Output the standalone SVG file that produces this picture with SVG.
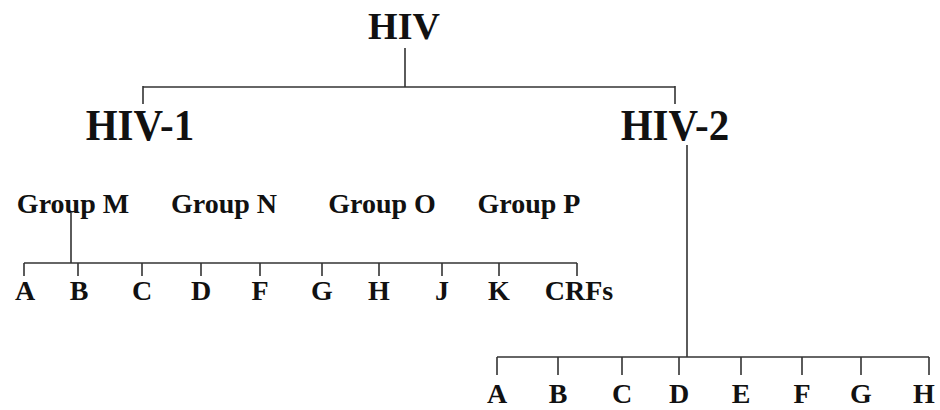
<svg xmlns="http://www.w3.org/2000/svg" width="940" height="410" viewBox="0 0 940 410">
<style>
text{font-family:"Liberation Serif","Times New Roman",serif;font-weight:bold;fill:#111;text-anchor:middle}
.l1{font-size:38px}
.l2{font-size:41px}
.g{font-size:28px}
.s{font-size:28px}
.c line{stroke:#333;stroke-width:1.6;fill:none}
</style>
<rect width="940" height="410" fill="#fff"/>
<g class="c" id="connectors">
<line x1="405" y1="48" x2="405" y2="87"/>
<line x1="143" y1="87" x2="675" y2="87"/>
<line x1="143" y1="86" x2="143" y2="104"/>
<line x1="675" y1="86" x2="675" y2="104"/>
<line x1="687" y1="145" x2="687" y2="357"/>
<line x1="71" y1="213" x2="71" y2="263"/>
<line x1="24" y1="263" x2="577" y2="263"/>
<line x1="24" y1="263" x2="24" y2="276"/>
<line x1="78" y1="263" x2="78" y2="276"/>
<line x1="142" y1="263" x2="142" y2="276"/>
<line x1="201" y1="263" x2="201" y2="276"/>
<line x1="260" y1="263" x2="260" y2="276"/>
<line x1="322" y1="263" x2="322" y2="276"/>
<line x1="379" y1="263" x2="379" y2="276"/>
<line x1="442" y1="263" x2="442" y2="276"/>
<line x1="499" y1="263" x2="499" y2="276"/>
<line x1="577" y1="263" x2="577" y2="276"/>
<line x1="497" y1="357" x2="929" y2="357"/>
<line x1="497" y1="357" x2="497" y2="375"/>
<line x1="558" y1="357" x2="558" y2="375"/>
<line x1="622" y1="357" x2="622" y2="375"/>
<line x1="679" y1="357" x2="679" y2="375"/>
<line x1="741" y1="357" x2="741" y2="375"/>
<line x1="802" y1="357" x2="802" y2="375"/>
<line x1="861" y1="357" x2="861" y2="375"/>
<line x1="929" y1="357" x2="929" y2="375"/>
</g>
<g id="hiv"><text class="l1" x="404" y="39">HIV</text></g>
<g id="hiv1"><text class="l2" transform="translate(140,140) scale(1,1.1)">HIV-1</text></g>
<g id="hiv2"><text class="l2" transform="translate(675,140) scale(1,1.1)">HIV-2</text></g>
<g id="groupM"><text class="g" x="73" y="213">Group M</text></g>
<g id="groupN"><text class="g" x="224" y="213">Group N</text></g>
<g id="groupO"><text class="g" x="382" y="213">Group O</text></g>
<g id="groupP"><text class="g" x="529" y="213">Group P</text></g>
<g id="m-A"><text class="s" x="25" y="300">A</text></g>
<g id="m-B"><text class="s" x="79" y="300">B</text></g>
<g id="m-C"><text class="s" x="142" y="300">C</text></g>
<g id="m-D"><text class="s" x="201" y="300">D</text></g>
<g id="m-F"><text class="s" x="260" y="300">F</text></g>
<g id="m-G"><text class="s" x="322" y="300">G</text></g>
<g id="m-H"><text class="s" x="379" y="300">H</text></g>
<g id="m-J"><text class="s" x="442" y="300">J</text></g>
<g id="m-K"><text class="s" x="499" y="300">K</text></g>
<g id="m-CRFs"><text class="s" x="579" y="300">CRFs</text></g>
<g id="h2-A"><text class="s" x="497" y="403">A</text></g>
<g id="h2-B"><text class="s" x="558" y="403">B</text></g>
<g id="h2-C"><text class="s" x="622" y="403">C</text></g>
<g id="h2-D"><text class="s" x="679" y="403">D</text></g>
<g id="h2-E"><text class="s" x="741" y="403">E</text></g>
<g id="h2-F"><text class="s" x="802" y="403">F</text></g>
<g id="h2-G"><text class="s" x="861" y="403">G</text></g>
<g id="h2-H"><text class="s" x="924" y="403">H</text></g>
</svg>
